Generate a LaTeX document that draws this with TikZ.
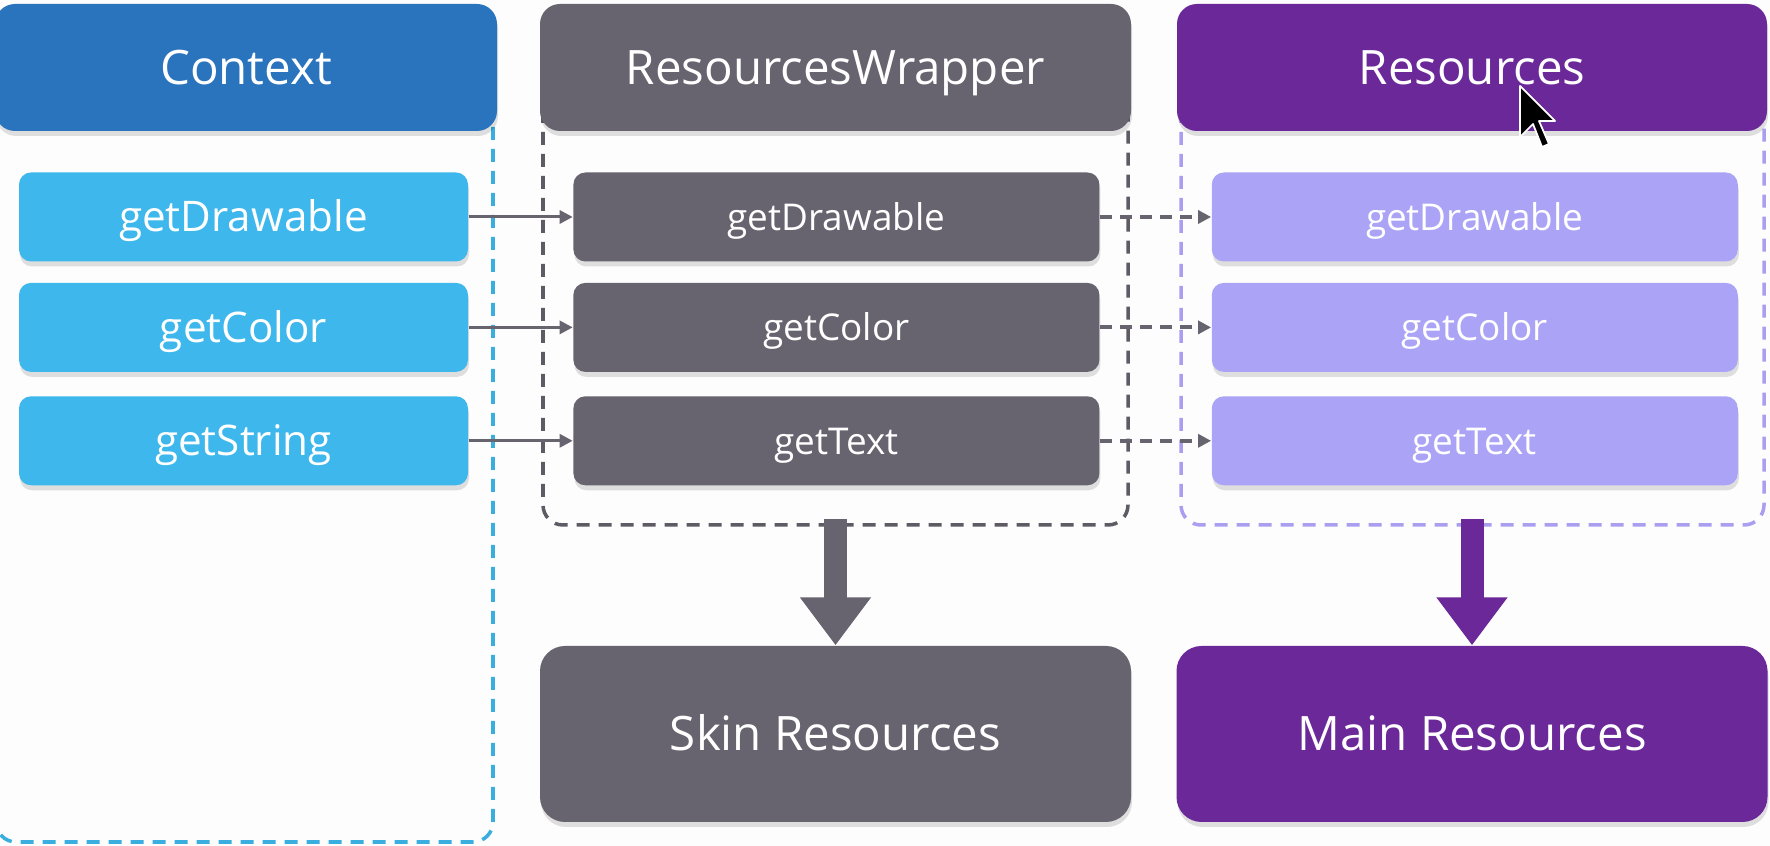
\documentclass[tikz,border=0pt]{standalone}
\usepackage{fontspec}
\setmainfont{Open Sans}
\usetikzlibrary{positioning,arrows.meta,shadows}

\definecolor{ctxblue}{HTML}{2A73BD}
\definecolor{skyblue}{HTML}{3EB8EC}
\definecolor{wrapgrey}{HTML}{67636F}
\definecolor{respurple}{HTML}{6A2899}
\definecolor{lilac}{HTML}{ABA3F6}
\definecolor{dashblue}{HTML}{3AAEDF}
\definecolor{dashgrey}{HTML}{5E5B65}
\definecolor{dashlilac}{HTML}{AA9EF0}
\definecolor{paper}{HTML}{FDFDFD}

\tikzset{
  softshadow/.style={drop shadow={shadow xshift=0.1mm, shadow yshift=-0.5mm, opacity=0.12, fill=black}},
  head/.style={rounded corners=2mm, text=white, inner sep=0pt, minimum height=12.7mm,
    font=\fontsize{13.5}{16}\selectfont, text height=3.4mm, text depth=0pt, softshadow},
  lmeth/.style={fill=skyblue, rounded corners=1.2mm, text=white, inner sep=0pt,
    minimum width=44.9mm, minimum height=8.9mm, font=\fontsize{12}{14}\selectfont,
    text height=3mm, text depth=0pt, softshadow},
  meth/.style={rounded corners=1.2mm, text=white, inner sep=0pt,
    minimum width=52.6mm, minimum height=8.9mm, font=\fontsize{10.5}{13}\selectfont,
    text height=2.65mm, text depth=0pt, softshadow},
  store/.style={rounded corners=2.5mm, text=white, inner sep=0pt, minimum width=59.1mm,
    minimum height=17.6mm, font=\fontsize{13.5}{16}\selectfont,
    text height=3.4mm, text depth=0pt, softshadow},
  frame/.style={line width=1pt, dash pattern=on 1.3mm off 0.9mm, rounded corners=2mm},
  call/.style={draw=wrapgrey, line width=0.85pt, -{Triangle[length=1.3mm,width=1.3mm]}},
  fwd/.style={call, line width=1.1pt, dash pattern=on 1.2mm off 0.8mm},
  bigarrow/.style={line width=2.3mm, -{Triangle[length=4.8mm,width=6.8mm]}}
}

\begin{document}
\begin{tikzpicture}[x=0.1mm,y=-0.1mm]
  \useasboundingbox (0,0) rectangle (1770,846);
  \fill[paper] (0,0) rectangle (1770,846);

  % dashed frames behind the columns
  \draw[frame, dashblue] (-4,90) rectangle (493,842);
  \draw[frame, dashgrey] (543,90) rectangle (1128,525);
  \draw[frame, dashlilac] (1181,90) rectangle (1764,525);

  % column heads
  \node[head, fill=ctxblue, minimum width=50.2mm] (ctx) at (246,67.5) {Context};
  \node[head, fill=wrapgrey, minimum width=59.1mm] (wrap) at (835.5,67.5) {ResourcesWrapper};
  \node[head, fill=respurple, minimum width=59mm] (res) at (1472,67.5) {Resources};

  % Context methods
  \node[lmeth] (cd) at (243.5,217) {getDrawable};
  \node[lmeth, below=2mm of cd] (cc) {getColor};
  \node[lmeth, below=2.3mm of cc] (cs) {getString};

  % wrapper methods
  \node[meth, fill=wrapgrey, right=10.4mm of cd] (wd) {getDrawable};
  \node[meth, fill=wrapgrey, right=10.4mm of cc] (wc) {getColor};
  \node[meth, fill=wrapgrey, right=10.4mm of cs] (wt) {getText};

  % Resources methods
  \node[meth, fill=lilac, right=11.1mm of wd] (rd) {getDrawable};
  \node[meth, fill=lilac, right=11.1mm of wc] (rc) {getColor};
  \node[meth, fill=lilac, right=11.1mm of wt] (rt) {getText};

  % where they end up
  \node[store, fill=wrapgrey] (skin) at (835.5,734) {Skin Resources};
  \node[store, fill=respurple] (main) at (1472,734) {Main Resources};

  \draw[call] (cd) -- (wd);
  \draw[call] (cc) -- (wc);
  \draw[call] (cs) -- (wt);
  \draw[fwd] (wd) -- (rd);
  \draw[fwd] (wc) -- (rc);
  \draw[fwd] (wt) -- (rt);

  \coordinate (wb) at (835.5,519);
  \coordinate (rb) at (1472,519);
  \draw[bigarrow, wrapgrey] (wb) -- (skin);
  \draw[bigarrow, respurple] (rb) -- (main);

  % mouse pointer
  \filldraw[fill=black, draw=white, line width=0.5pt, line join=round]
    (1520,86) -- (1520,137) -- (1533,124) -- (1542,147) -- (1549,144)
    -- (1539,121) -- (1555,121) -- cycle;
\end{tikzpicture}
\end{document}
